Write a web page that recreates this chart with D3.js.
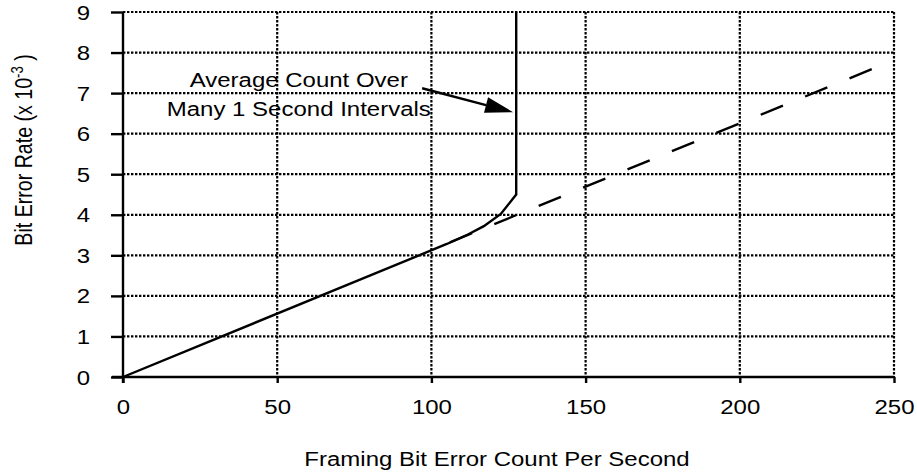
<!DOCTYPE html>
<html>
<head>
<meta charset="utf-8">
<script src="https://cdn.jsdelivr.net/npm/d3@7"></script>
<style>
  body { margin: 0; background: #fff; }
  text { font-family: Arial, "Liberation Sans", sans-serif; fill: #000; }
</style>
</head>
<body>
<div id="chart"></div>
<script>
// Tick values
var xTicks = [0, 50, 100, 150, 200, 250];
var yTicks = [0, 1, 2, 3, 4, 5, 6, 7, 8, 9];

// Solid curve: measured average count over many 1 second intervals
var solidX = [0, 80, 105, 112, 117, 122.5, 127.5, 127.5];
var solidY = [0, 2.5, 3.28, 3.52, 3.72, 4.02, 4.5, 9];

// Dashed curve: theoretical relation
var dashX = [106, 245];
var dashY = [3.32, 7.66];

// Annotation (data units)
var noteLines = ["Average Count Over", "Many 1 Second Intervals"];
var noteAt = [57, 7.15];
var arrowFrom = [97, 7.12];
var arrowTo = [126.5, 6.53];

// the picture is squashed vertically, so is its text
var squash = 0.817;

function init() {
    var w = 917, h = 474;
    var left = 123, right = 894, top = 12, bottom = 377;
    var fs = 24;

    var x = d3.scaleLinear().domain([0, 250]).range([left, right]);
    var y = d3.scaleLinear().domain([0, 9]).range([bottom, top]);

    var svg = d3.select("#chart")
        .append("svg")
        .attr("width", w)
        .attr("height", h);

    // dotted grid
    svg.append("g")
        .selectAll("line")
        .data(yTicks.filter(function (d) { return d > 0; }))
        .enter()
        .append("line")
        .attr("x1", left).attr("x2", right)
        .attr("y1", function (d) { return y(d); })
        .attr("y2", function (d) { return y(d); })
        .attr("stroke", "#000")
        .attr("stroke-width", 2.2)
        .attr("stroke-dasharray", "2.4,1.6");

    svg.append("g")
        .selectAll("line")
        .data(xTicks.filter(function (d) { return d > 0; }))
        .enter()
        .append("line")
        .attr("x1", function (d) { return x(d); })
        .attr("x2", function (d) { return x(d); })
        .attr("y1", top).attr("y2", bottom)
        .attr("stroke", "#000")
        .attr("stroke-width", 2.2)
        .attr("stroke-dasharray", "2.4,1.6");

    // axes
    var xAxis = svg.append("g")
        .attr("transform", "translate(0," + bottom + ")")
        .call(d3.axisBottom(x).tickValues(xTicks).tickSize(6));
    xAxis.select(".domain").attr("d", "M" + (left - 11) + ",0H" + right);

    var yAxis = svg.append("g")
        .attr("transform", "translate(" + left + ",0)")
        .call(d3.axisLeft(y).tickValues(yTicks).tickSize(12));
    yAxis.select(".domain").attr("d", "M0," + top + "V" + (bottom + 6));

    svg.selectAll(".tick line").attr("stroke", "#000").attr("stroke-width", 2.4);
    svg.selectAll(".domain").attr("stroke", "#000").attr("stroke-width", 2.4);
    svg.selectAll(".tick text")
        .attr("font-family", "Arial, 'Liberation Sans', sans-serif")
        .attr("font-size", fs)
        .attr("fill", "#000")
        .attr("x", 0).attr("y", 0).attr("dy", null);
    xAxis.selectAll(".tick text")
        .attr("transform", "translate(0,37) scale(1," + squash + ")");
    yAxis.selectAll(".tick text")
        .attr("transform", "translate(-33,7) scale(1," + squash + ")");

    // curves
    var line = d3.line()
        .x(function (d) { return x(d[0]); })
        .y(function (d) { return y(d[1]); });

    svg.append("path")
        .attr("d", line(dashX.map(function (d, i) { return [d, dashY[i]]; })))
        .attr("fill", "none")
        .attr("stroke", "#000")
        .attr("stroke-width", 2.4)
        .attr("stroke-dasharray", "24,24");

    svg.append("path")
        .attr("d", line(solidX.map(function (d, i) { return [d, solidY[i]]; })))
        .attr("fill", "none")
        .attr("stroke", "#000")
        .attr("stroke-width", 2.4);

    // annotation
    svg.append("g")
        .selectAll("text")
        .data(noteLines)
        .enter()
        .append("text")
        .attr("text-anchor", "middle")
        .attr("font-size", fs)
        .attr("transform", function (d, i) {
            return "translate(" + x(noteAt[0]) + "," + (y(noteAt[1]) + i * 29) + ") scale(1," + squash + ")";
        })
        .text(function (d) { return d; });

    var x0 = x(arrowFrom[0]), y0 = y(arrowFrom[1]);
    var x1 = x(arrowTo[0]), y1 = y(arrowTo[1]);
    var ang = Math.atan2(y1 - y0, x1 - x0);
    var hl = 28, hw = 8;
    var bx = x1 - hl * Math.cos(ang), by = y1 - hl * Math.sin(ang);
    svg.append("line")
        .attr("x1", x0).attr("y1", y0)
        .attr("x2", bx).attr("y2", by)
        .attr("stroke", "#000")
        .attr("stroke-width", 2.4);
    svg.append("path")
        .attr("d", "M" + x1 + "," + y1 +
            "L" + (bx - hw * Math.sin(ang)) + "," + (by + hw * Math.cos(ang)) +
            "L" + (bx + hw * Math.sin(ang)) + "," + (by - hw * Math.cos(ang)) + "Z")
        .attr("fill", "#000");

    // axis titles
    svg.append("text")
        .attr("transform", "translate(497,466) scale(1," + squash + ")")
        .attr("text-anchor", "middle")
        .attr("font-size", fs)
        .text("Framing Bit Error Count Per Second");

    var yt = svg.append("text")
        .attr("transform", "translate(32,150) rotate(-90) scale(" + squash + ",1)")
        .attr("text-anchor", "middle")
        .attr("font-size", fs);
    yt.append("tspan").text("Bit Error Rate (x 10");
    yt.append("tspan").attr("font-size", 16).attr("dy", -9).text("-3");
    yt.append("tspan").attr("dy", 9).text(" )");
}

window.onload = init;
</script>
</body>
</html>
